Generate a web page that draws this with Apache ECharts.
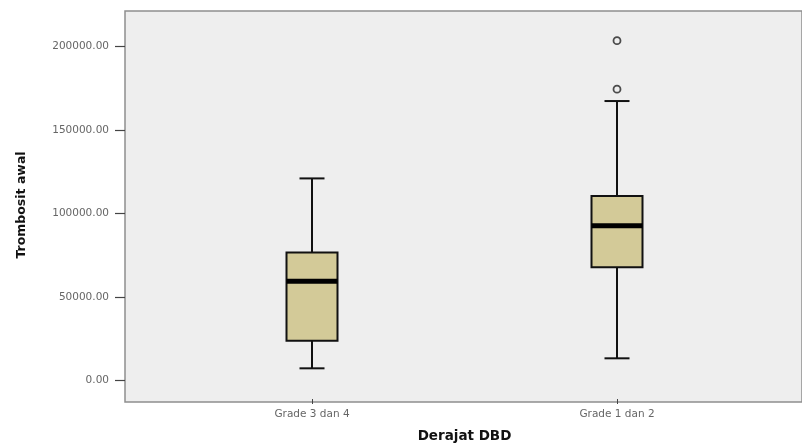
<!DOCTYPE html>
<html>
<head>
<meta charset="utf-8">
<script src="https://cdn.jsdelivr.net/npm/echarts@6/dist/echarts.min.js"></script>
<style>html,body{margin:0;padding:0;background:#fff}#chart{width:802px;height:448px}</style>
</head>
<body>
<div id="chart"></div>
<script>
// Groups and their five-number summaries (low whisker, Q1, median, Q3, high whisker)
const categories = ['Grade 3 dan 4', 'Grade 1 dan 2'];
const lowWhisker = [7100, 13100];
const q1 = [23700, 67700];
const median = [59300, 92600];
const q3 = [76600, 110400];
const highWhisker = [121000, 167400];
// Outliers: [group index, value]
const outliers = [[1, 174500], [1, 203600]];
const yTicks = [0, 50000, 100000, 150000, 200000];

const boxData = categories.map((c, i) => [i, lowWhisker[i], q1[i], median[i], q3[i], highWhisker[i]]);
const labelFont = 'DejaVu Sans, Verdana, sans-serif';
const BOX_W = 51, CAP_W = 25;

function renderBox(params, api) {
  const i = api.value(0);
  const pLow = api.coord([i, api.value(1)]);
  const pQ1 = api.coord([i, api.value(2)]);
  const pMed = api.coord([i, api.value(3)]);
  const pQ3 = api.coord([i, api.value(4)]);
  const pHigh = api.coord([i, api.value(5)]);
  const x = pMed[0];
  const line = { stroke: '#111', lineWidth: 2 };
  return {
    type: 'group',
    children: [
      { type: 'line', shape: { x1: x, y1: pHigh[1], x2: x, y2: pQ3[1] }, style: line },
      { type: 'line', shape: { x1: x, y1: pQ1[1], x2: x, y2: pLow[1] }, style: line },
      { type: 'line', shape: { x1: x - CAP_W / 2, y1: pHigh[1], x2: x + CAP_W / 2, y2: pHigh[1] }, style: line },
      { type: 'line', shape: { x1: x - CAP_W / 2, y1: pLow[1], x2: x + CAP_W / 2, y2: pLow[1] }, style: line },
      { type: 'rect', shape: { x: x - BOX_W / 2, y: pQ3[1], width: BOX_W, height: pQ1[1] - pQ3[1] },
        style: { fill: '#d3ca98', stroke: '#111', lineWidth: 2 } },
      { type: 'line', shape: { x1: x - BOX_W / 2, y1: pMed[1], x2: x + BOX_W / 2, y2: pMed[1] },
        style: { stroke: '#000', lineWidth: 5 } }
    ]
  };
}

const chart = echarts.init(document.getElementById('chart'));
chart.setOption({
  animation: false,
  grid: [
    // frame and background of the plot
    { left: 125, top: 11, right: -20, bottom: 46, show: true, backgroundColor: '#eeeeee', borderColor: '#8f8f8f', borderWidth: 1.5, containLabel: false },
    // data grid holding both groups
    { left: 159.5, top: 11, width: 610, bottom: 46, containLabel: false }
  ],
  xAxis: [
    { gridIndex: 0, type: 'value', show: false, min: 0, max: 1 },
    {
      gridIndex: 1, type: 'category', data: categories, boundaryGap: true,
      axisLine: { show: false, onZero: false },
      axisTick: { show: true, alignWithLabel: true, length: 5, inside: false, lineStyle: { color: '#444', width: 1 } },
      axisLabel: { color: '#666', fontSize: 10.5, fontFamily: labelFont, margin: 10 },
      name: 'Derajat DBD', nameLocation: 'middle', nameGap: 30,
      nameTextStyle: { fontSize: 13.5, fontWeight: 'bold', color: '#111', fontFamily: labelFont }
    }
  ],
  yAxis: [
    { gridIndex: 0, type: 'value', show: false, min: 0, max: 1 },
    {
      gridIndex: 1, type: 'value', min: -11300, max: 221400, offset: 34.5,
      axisLine: { show: false, onZero: false },
      splitLine: { show: false },
      axisTick: { show: true, length: 10, lineStyle: { color: '#444', width: 1.2 }, customValues: yTicks },
      axisLabel: { color: '#666', fontSize: 10.5, fontFamily: labelFont, margin: 16, customValues: yTicks,
        formatter: v => v.toFixed(2) },
      name: 'Trombosit awal', nameLocation: 'middle', nameGap: 97, nameRotate: 90,
      nameTextStyle: { fontSize: 12.5, fontWeight: 'bold', color: '#111', fontFamily: labelFont }
    }
  ],
  series: [
    {
      type: 'custom', xAxisIndex: 1, yAxisIndex: 1,
      data: boxData, renderItem: renderBox, z: 3
    },
    {
      type: 'scatter', xAxisIndex: 1, yAxisIndex: 1,
      data: outliers, symbol: 'circle', symbolSize: 7, z: 4,
      itemStyle: { color: '#eeeeee', borderColor: '#222', borderWidth: 1.8 }
    }
  ]
});
</script>
</body>
</html>
